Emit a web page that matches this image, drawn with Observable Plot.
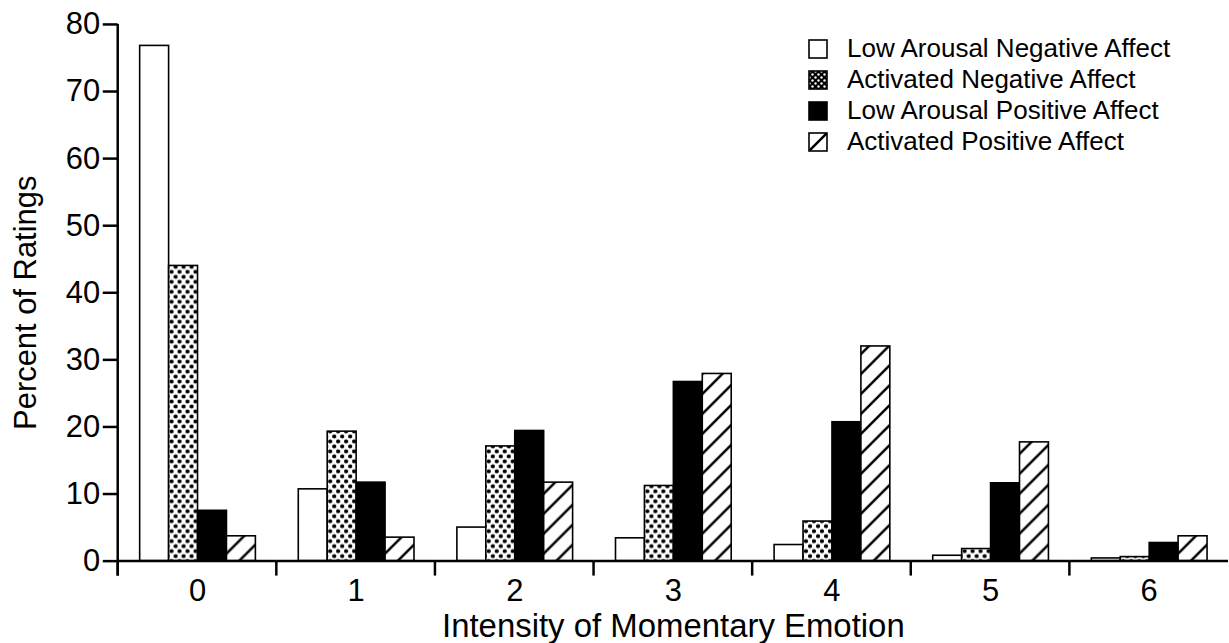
<!DOCTYPE html>
<html><head><meta charset="utf-8">
<script src="https://cdn.jsdelivr.net/npm/d3@7"></script>
<script src="https://cdn.jsdelivr.net/npm/@observablehq/plot@0.6"></script>
<style>
body{margin:0;background:#fff;overflow:hidden;font-family:"Liberation Sans",Arial,sans-serif}
#wrap{position:relative;width:1229px;height:643px;overflow:hidden}
#legend{position:absolute;left:808px;top:33px;font-size:26px;color:#000}
.row{display:flex;align-items:center;height:31px;white-space:nowrap}
.row svg{margin-right:19px;flex:none}
</style></head><body>
<svg width="0" height="0" style="position:absolute">
<defs>
<pattern id="dots" patternUnits="userSpaceOnUse" width="8" height="10">
<rect width="8" height="10" fill="white"/>
<circle cx="2" cy="2.5" r="2.1" fill="black"/>
<circle cx="6" cy="7.5" r="2.1" fill="black"/>
</pattern>
<pattern id="dotsLegend" patternUnits="userSpaceOnUse" width="6" height="6">
<rect width="6" height="6" fill="black"/>
<circle cx="1.5" cy="1.5" r="1.2" fill="white"/>
<circle cx="4.5" cy="4.5" r="1.2" fill="white"/>
</pattern>
<pattern id="hatch" patternUnits="userSpaceOnUse" width="20" height="20">
<rect width="20" height="20" fill="white"/>
<path d="M-5,5 L5,-5 M0,20 L20,0 M15,25 L25,15" stroke="black" stroke-width="2.5"/>
</pattern>
</defs></svg>
<div id="wrap"><div id="chart"></div><div id="legend"></div></div>
<script>
// ---- data ----
const intensities = [0, 1, 2, 3, 4, 5, 6];
const seriesNames = [
  "Low Arousal Negative Affect",
  "Activated Negative Affect",
  "Low Arousal Positive Affect",
  "Activated Positive Affect"
];
const lowArousalNegative = [76.8, 10.7, 5.0, 3.4, 2.4, 0.8, 0.4];
const activatedNegative  = [44.0, 19.3, 17.1, 11.2, 5.9, 1.8, 0.6];
const lowArousalPositive = [7.5, 11.7, 19.4, 26.7, 20.7, 11.6, 2.7];
const activatedPositive  = [3.7, 3.5, 11.7, 27.9, 32.0, 17.7, 3.7];
const yTicks = [0, 10, 20, 30, 40, 50, 60, 70, 80];
const xTitle = "Intensity of Momentary Emotion";
const yTitle = "Percent of Ratings";
const fills = ["white", "url(#dots)", "black", "url(#hatch)"];
const legendFills = ["white", "url(#dotsLegend)", "black", "url(#hatch)"];

const seriesValues = [lowArousalNegative, activatedNegative, lowArousalPositive, activatedPositive];
const data = intensities.flatMap((c, i) =>
  seriesNames.map((s, k) => ({intensity: c, series: s, value: seriesValues[k][i]})));

const plot = Plot.plot({
  width: 1232, height: 643,
  marginLeft: 116, marginRight: 0, marginTop: 24, marginBottom: 81,
  style: {fontFamily: "'Liberation Sans', Arial, sans-serif", color: "black", background: "white", overflow: "visible"},
  fx: {domain: intensities, paddingInner: 0, paddingOuter: 0, label: null},
  x: {domain: seriesNames, paddingInner: 0, paddingOuter: 0.66, axis: null},
  y: {domain: [0, 80]},
  color: {domain: seriesNames, range: fills},
  marks: [
    Plot.barY(data, {fx: "intensity", x: "series", y: "value", fill: "series", stroke: "black", strokeWidth: 1.6}),
    Plot.ruleY([0], {stroke: "black", strokeWidth: 2.5}),
    Plot.axisY({ticks: yTicks, tickSize: 15, tickPadding: 3, fontSize: 31, strokeWidth: 2.5,
      label: yTitle, labelAnchor: "center", labelOffset: 104, labelArrow: "none"}),
    Plot.axisFx({anchor: "bottom", tickSize: 0, tickPadding: 18, fontSize: 31,
      label: xTitle, labelAnchor: "center", labelOffset: 76, labelArrow: "none"})
  ]
});
document.getElementById("chart").appendChild(plot);

// title tweaks
d3.select(plot).selectAll('[aria-label="fx-axis label"] text').style("font-size", "33px");
d3.select(plot).selectAll('[aria-label="y-axis label"]').each(function() {
  const s = d3.select(this);
  s.attr("transform", (s.attr("transform") || "") + " translate(0,10)");
});

// axis line + boundary ticks from the library's scales
const fxS = plot.scale("fx"), yS = plot.scale("y");
const y0 = yS.apply(0), yTop = yS.apply(80);
const g = d3.select(plot).append("g").attr("stroke", "black").attr("stroke-width", 2.5);
g.append("line").attr("x1", fxS.apply(0)).attr("x2", fxS.apply(0)).attr("y1", yTop).attr("y2", y0 + 15);
for (const c of intensities) {
  const xb = fxS.apply(c);
  g.append("line").attr("x1", xb).attr("x2", xb).attr("y1", y0).attr("y2", y0 + 15);
}

// legend
const legend = d3.select("#legend");
seriesNames.forEach((s, k) => {
  const row = legend.append("div").attr("class", "row");
  const sw = row.append("svg").attr("width", 20).attr("height", 20);
  sw.append("rect").attr("x", 1).attr("y", 1).attr("width", 18).attr("height", 18)
    .attr("fill", legendFills[k]).attr("stroke", "black").attr("stroke-width", 1.6);
  row.append("span").text(s);
});
</script>
</body></html>
